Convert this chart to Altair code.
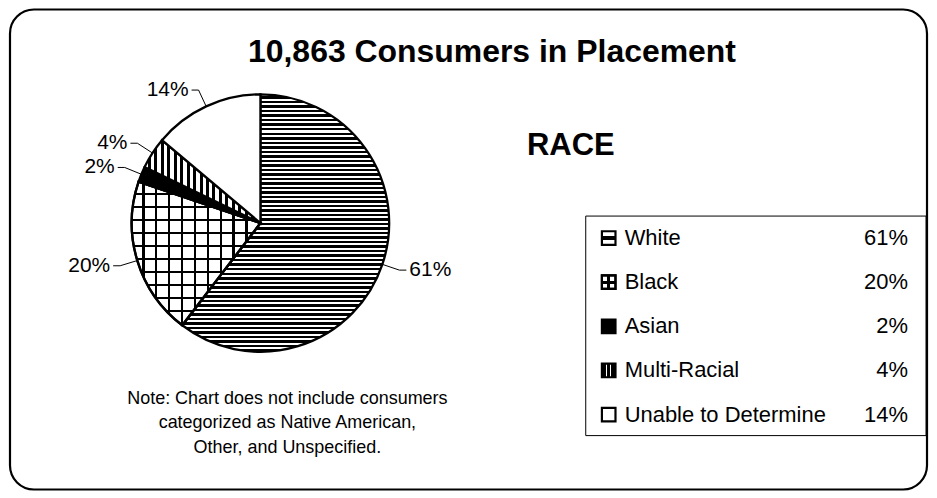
import math
import altair as alt
import pandas as pd

# ---------------- data ----------------
categories = ["White", "Black", "Asian", "Multi-Racial", "Unable to Determine"]
percents = [61, 20, 2, 4, 14]
title_text = "10,863 Consumers in Placement"
subtitle_text = "RACE"
note_text = "Note: Chart does not include consumers\ncategorized as Native American,\nOther, and Unspecified."

df = pd.DataFrame({"cat": categories, "value": percents})

# ---------------- layout / style ----------------
W, H = 923, 484
CX, CY, R = 253, 215, 129
EXT = 18
FONT = "Liberation Sans"


def stripes(n, duty, fg, bg, vertical):
    stops = []
    for i in range(n):
        a = i / n
        m = (i + 1 - duty) / n
        b = (i + 1) / n
        stops += [
            {"offset": round(a, 5), "color": bg},
            {"offset": round(m, 5), "color": bg},
            {"offset": round(m, 5), "color": fg},
            {"offset": round(b, 5), "color": fg},
        ]
    g = {"gradient": "linear", "stops": stops}
    if vertical:
        g.update({"x1": 0, "y1": 0, "x2": 1, "y2": 0})
    else:
        g.update({"x1": 0, "y1": 0, "x2": 0, "y2": 1})
    return g


def bands(segs, vertical):
    stops = []
    for a, b, c in segs:
        stops += [{"offset": a, "color": c}, {"offset": b, "color": c}]
    g = {"gradient": "linear", "stops": stops}
    if vertical:
        g.update({"x1": 0, "y1": 0, "x2": 1, "y2": 0})
    else:
        g.update({"x1": 0, "y1": 0, "x2": 0, "y2": 1})
    return g


CLEAR = "rgba(0,0,0,0)"

pie_fills = {
    "White": [stripes(57, 0.55, "black", "white", False)],
    "Black": [stripes(11, 0.17, "black", "white", False),
              stripes(10, 0.18, "black", CLEAR, True)],
    "Asian": ["black"],
    "Multi-Racial": [stripes(18, 0.47, "black", "white", True)],
    "Unable to Determine": ["white"],
}

sym_fills = {
    "White": [bands([(0, 0.38, "white"), (0.38, 0.62, "black"), (0.62, 1, "white")], False)],
    "Black": [bands([(0, 0.4, "white"), (0.4, 0.6, "black"), (0.6, 1, "white")], False),
              bands([(0, 0.4, CLEAR), (0.4, 0.6, "black"), (0.6, 1, CLEAR)], True)],
    "Asian": ["black"],
    "Multi-Racial": [bands([(0, 0.3, "black"), (0.3, 0.4, "white"), (0.4, 0.6, "black"),
                            (0.6, 0.7, "white"), (0.7, 1, "black")], True)],
    "Unable to Determine": ["white"],
}

one = alt.Data(values=[{}])

frame = alt.Chart(one).mark_rect(
    fill="white", stroke="black", strokeWidth=2.2, cornerRadius=24
).encode(x=alt.value(2), x2=alt.value(921), y=alt.value(1), y2=alt.value(482))

title = alt.Chart(one).mark_text(
    font=FONT, fontSize=32, fontWeight="bold", align="center", baseline="middle", color="black"
).encode(x=alt.value(485), y=alt.value(44), text=alt.value(title_text))

race = alt.Chart(one).mark_text(
    font=FONT, fontSize=31, fontWeight="bold", align="center", baseline="middle", color="black"
).encode(x=alt.value(564), y=alt.value(138), text=alt.value(subtitle_text))

note = alt.Chart(one).mark_text(
    font=FONT, fontSize=18, align="center", baseline="top", lineBreak="\n", lineHeight=24.5,
    color="black"
).encode(x=alt.value(280), y=alt.value(382), text=alt.value(note_text))

base = (
    alt.Chart(df)
    .transform_joinaggregate(total="sum(value)")
    .transform_window(end="sum(value)", frame=[None, 0])
    .transform_calculate(
        start="datum.end - datum.value",
        t0="(datum.end - datum.value) / datum.total",
        t1="datum.end / datum.total",
    )
)

theta_scale = alt.Scale(domain=[0, 1], range=[0, 2 * math.pi])

pie_layers = []
for cat in categories:
    for f in pie_fills[cat]:
        pie_layers.append(
            base.transform_filter(alt.datum.cat == cat)
            .mark_arc(radius=R, fill=f, stroke="black", strokeWidth=2.3, opacity=1)
            .encode(
                theta=alt.Theta("t0:Q", scale=theta_scale),
                theta2="t1:Q",
                x=alt.value(CX),
                y=alt.value(CY),
            )
        )

lead = base.transform_calculate(
    ang="2 * PI * (datum.start + datum.value / 2) / datum.total",
).transform_calculate(
    ex=f"{CX} + {R} * sin(datum.ang)",
    ey=f"{CY} - {R} * cos(datum.ang)",
    bx=f"{CX} + {R + EXT} * sin(datum.ang)",
    by=f"{CY} - {R + EXT} * cos(datum.ang)",
    side="sin(datum.ang) >= 0 ? 1 : -1",
    label="datum.value + '%'",
).transform_calculate(
    hx="datum.bx + 7 * datum.side",
    tx="datum.bx + 10 * datum.side",
)

lead1 = lead.mark_rule(color="black", strokeWidth=1).encode(
    x=alt.X("ex:Q", scale=None), y=alt.Y("ey:Q", scale=None), x2="bx:Q", y2="by:Q"
)
lead2 = lead.mark_rule(color="black", strokeWidth=1).encode(
    x=alt.X("bx:Q", scale=None), y=alt.Y("by:Q", scale=None), x2="hx:Q", y2="by:Q"
)
lab_r = lead.transform_filter("datum.side > 0").mark_text(
    font=FONT, fontSize=21, align="left", baseline="middle", color="black"
).encode(x=alt.X("tx:Q", scale=None), y=alt.Y("by:Q", scale=None), text="label:N")
lab_l = lead.transform_filter("datum.side < 0").mark_text(
    font=FONT, fontSize=21, align="right", baseline="middle", color="black"
).encode(x=alt.X("tx:Q", scale=None), y=alt.Y("by:Q", scale=None), text="label:N")

# legend
legend_box = alt.Chart(one).mark_rect(
    fill="white", stroke="black", strokeWidth=1
).encode(x=alt.value(579), x2=alt.value(920), y=alt.value(208), y2=alt.value(428))

row_y = alt.Y("cat:N", scale=alt.Scale(type="point", domain=categories, range=[230, 407], padding=0),
              axis=None)

leg = alt.Chart(df).transform_calculate(label="datum.value + '%'")

sym_layers = []
for cat in categories:
    for f in sym_fills[cat]:
        sym_layers.append(
            leg.transform_filter(alt.datum.cat == cat)
            .mark_square(size=185, fill=f, filled=True, stroke="black", strokeWidth=2.2, opacity=1)
            .encode(x=alt.value(602), y=row_y)
        )

names = leg.mark_text(font=FONT, fontSize=22, align="left", baseline="middle", color="black").encode(
    x=alt.value(618), y=row_y, text="cat:N"
)
pcts = leg.mark_text(font=FONT, fontSize=22, align="right", baseline="middle", color="black").encode(
    x=alt.value(902), y=row_y, text="label:N"
)

chart = (
    alt.layer(frame, title, race, note, *pie_layers, lead1, lead2, lab_r, lab_l,
              legend_box, *sym_layers, names, pcts)
    .resolve_scale(x="independent", y="independent")
    .properties(width=W, height=H, padding=0, autosize=alt.AutoSizeParams(type="none"))
    .configure_view(stroke=None)
)

chart.save("out.html", embed_options={"renderer": "svg", "actions": False})
